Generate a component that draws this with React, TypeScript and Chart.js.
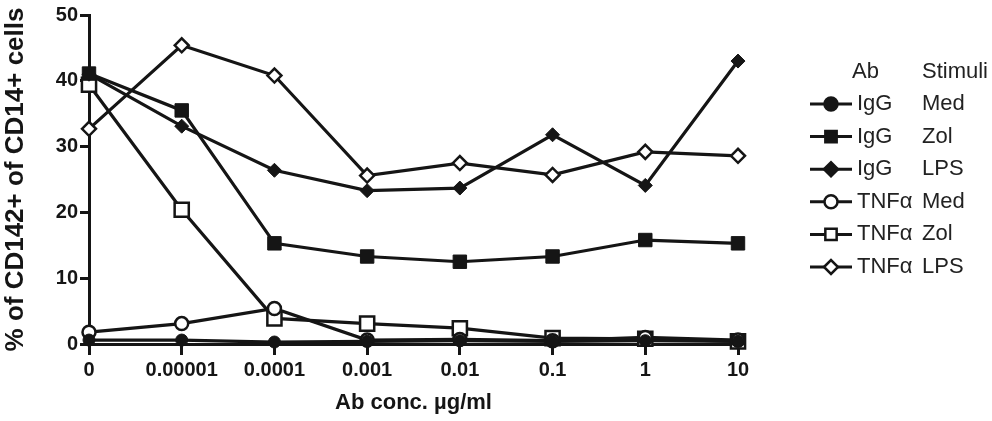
import { useEffect, useRef } from "react"
import { Chart, registerables } from "chart.js"
import { drawPoint } from "chart.js/helpers"

Chart.register(...registerables)

const concLabels = ["0", "0.00001", "0.0001", "0.001", "0.01", "0.1", "1", "10"]

const igGMed = [0.6, 0.6, 0.3, 0.4, 0.5, 0.4, 0.5, 0.4]
const igGZol = [41.1, 35.5, 15.3, 13.3, 12.5, 13.3, 15.8, 15.3]
const igGLps = [41, 33.1, 26.4, 23.3, 23.7, 31.8, 24.1, 43]
const tnfMed = [1.8, 3.1, 5.4, 0.6, 0.7, 0.5, 1.0, 0.6]
const tnfZol = [39.4, 20.4, 3.9, 3.1, 2.4, 0.9, 0.8, 0.4]
const tnfLps = [32.7, 45.4, 40.8, 25.6, 27.5, 25.7, 29.2, 28.6]

const abNames = ["IgG", "IgG", "IgG", "TNFα", "TNFα", "TNFα"]
const stimuliNames = ["Med", "Zol", "LPS", "Med", "Zol", "LPS"]

const INK = "#151515"
const FONT = "'Liberation Sans', Arial, Helvetica, sans-serif"

// legend drawn on the canvas, two text columns with a header row
const legendPlugin = {
  id: "abLegend",
  afterDraw(chart: any) {
    const ctx = chart.ctx
    ctx.save()
    ctx.font = `22px ${FONT}`
    ctx.fillStyle = "#222"
    ctx.textBaseline = "middle"
    ctx.textAlign = "left"
    ctx.fillText("Ab", 852, 72)
    ctx.fillText("Stimuli", 922, 72)
    chart.data.datasets.forEach((ds: any, i: number) => {
      const y = 104 + i * 32.6
      ctx.strokeStyle = INK
      ctx.lineWidth = 3
      ctx.beginPath()
      ctx.moveTo(810, y)
      ctx.lineTo(852, y)
      ctx.stroke()
      ctx.fillStyle = ds.pointBackgroundColor
      ctx.strokeStyle = INK
      ctx.lineWidth = 2.5
      const r = ds.pointStyle === "rect" ? 8 : ds.pointStyle === "rectRot" ? 7 : 6.5
      drawPoint(ctx, { pointStyle: ds.pointStyle, radius: r, rotation: 0, borderWidth: 2.5 }, 831, y)
      ctx.fillStyle = "#222"
      ctx.fillText(abNames[i], 857, y)
      ctx.fillText(stimuliNames[i], 922, y)
    })
    ctx.restore()
  },
}

function series(label: string, data: number[], style: string, filled: boolean, radius: number) {
  return {
    label,
    data,
    borderColor: INK,
    borderWidth: 3.2,
    pointStyle: style,
    pointRadius: radius,
    pointBorderWidth: filled ? 1 : 2.5,
    pointBorderColor: INK,
    pointBackgroundColor: filled ? INK : "#ffffff",
    clip: false as any,
    tension: 0,
  }
}

export default function App() {
  const chartRef = useRef<HTMLCanvasElement>(null)
  const chartInstance = useRef<Chart | null>(null)

  useEffect(() => {
    if (!chartRef.current) return
    if (chartInstance.current) chartInstance.current.destroy()
    const ctx = chartRef.current.getContext("2d")
    if (!ctx) return

    chartInstance.current = new Chart(ctx, {
      type: "line",
      data: {
        labels: concLabels,
        datasets: [
          series("IgG Med", igGMed, "circle", true, 6),
          series("IgG Zol", igGZol, "rect", true, 9.5),
          series("IgG LPS", igGLps, "rectRot", true, 7),
          series("TNFα Med", tnfMed, "circle", false, 6.5),
          series("TNFα Zol", tnfZol, "rect", false, 10),
          series("TNFα LPS", tnfLps, "rectRot", false, 7),
        ] as any,
      },
      options: {
        responsive: false,
        animation: false,
        layout: { padding: { top: 15, right: 254, bottom: 0, left: 0 } },
        plugins: {
          legend: { display: false },
          tooltip: { enabled: false },
        },
        scales: {
          x: {
            type: "category",
            offset: false,
            afterFit: (scale: any) => {
              scale.height = 77
            },
            grid: {
              display: true,
              drawOnChartArea: false,
              drawTicks: true,
              tickLength: 11,
              lineWidth: 3,
              color: INK,
            },
            border: { display: true, width: 3, color: INK },
            ticks: {
              color: INK,
              padding: 3,
              maxRotation: 0,
              autoSkip: false,
              font: { family: FONT, size: 20, weight: "bold" },
            },
            title: {
              display: true,
              text: "Ab conc. µg/ml",
              color: INK,
              padding: { top: 0, bottom: 5 },
              font: { family: FONT, size: 22, weight: "bold" },
            },
          },
          y: {
            min: 0,
            max: 50,
            afterFit: (scale: any) => {
              scale.width = 89
            },
            grid: {
              display: true,
              drawOnChartArea: false,
              drawTicks: true,
              tickLength: 9,
              lineWidth: 3,
              color: INK,
            },
            border: { display: true, width: 3, color: INK },
            ticks: {
              stepSize: 10,
              color: INK,
              padding: 2,
              font: { family: FONT, size: 20, weight: "bold" },
            },
            title: {
              display: true,
              text: "% of CD142+ of CD14+ cells",
              color: INK,
              padding: { top: 0, bottom: 0 },
              font: { family: FONT, size: 26, weight: "bold" },
            },
          },
        },
      },
      plugins: [legendPlugin],
    })

    return () => {
      if (chartInstance.current) {
        chartInstance.current.destroy()
        chartInstance.current = null
      }
    }
  }, [])

  return (
    <div style={{ position: "absolute", left: 0, top: 0, width: 992, height: 421, background: "#fff" }}>
      <canvas ref={chartRef} width={992} height={421} style={{ display: "block" }}></canvas>
    </div>
  )
}
